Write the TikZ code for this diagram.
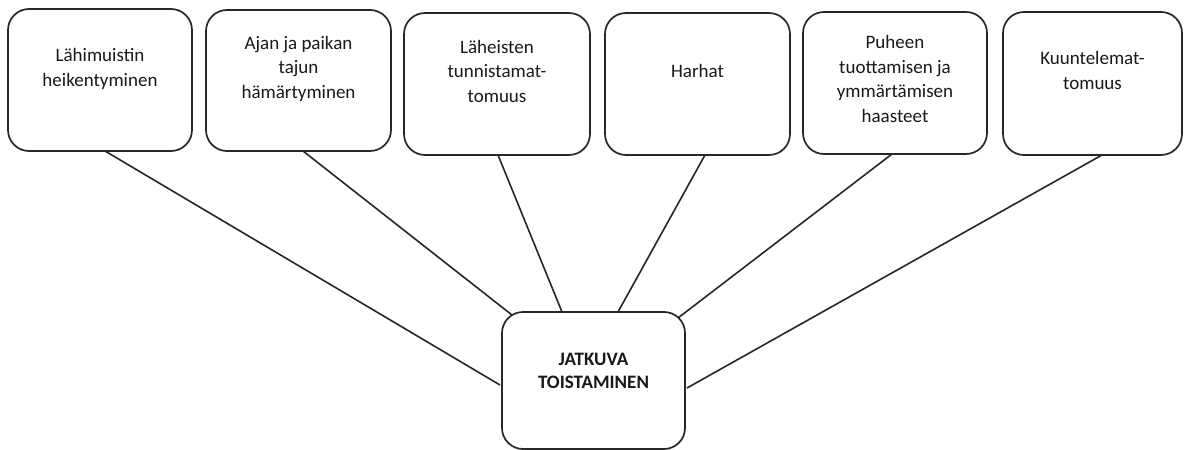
\documentclass[tikz,border=0pt]{standalone}
\usepackage{fontspec}
\setmainfont{Carlito}
\usetikzlibrary{calc}
\begin{document}
\begin{tikzpicture}[x=1pt,y=-1pt,
  box/.style={draw=black!85,line width=1.7pt,rounded corners=21pt,inner sep=0pt,outer sep=0pt,fill=white},
  lbl/.style={align=center,inner sep=0pt,font=\fontsize{19pt}{24.5pt}\selectfont,text=black!90,anchor=base},
  conn/.style={draw=black!85,line width=1.6pt}]
\useasboundingbox (0,0) rectangle (1184,450);
% top boxes
\node[box,minimum width=184pt,minimum height=142pt] (b1) at (100,80) {};
\node[box,minimum width=185pt,minimum height=141pt] (b2) at (298.5,80.5) {};
\node[box,minimum width=186pt,minimum height=142pt] (b3) at (497,84) {};
\node[box,minimum width=185pt,minimum height=142pt] (b4) at (697.5,84) {};
\node[box,minimum width=184pt,minimum height=142pt] (b5) at (895,83) {};
\node[box,minimum width=179pt,minimum height=143pt] (b6) at (1092.5,83.5) {};
% centre box
\node[box,minimum width=183pt,minimum height=137pt] (c) at (593.5,380.5) {};
% texts (base anchor = last line's baseline)
\node[lbl] (t1) at (100,86) {Lähimuistin\\heikentyminen};
\node[lbl] (t2) at (298.5,98) {Ajan ja paikan\\tajun\\hämärtyminen};
\node[lbl] (t3) at (497,102) {Läheisten\\tunnistamat-\\tomuus};
\node[lbl] (t4) at (697.5,77) {Harhat};
\node[lbl] (t5) at (895,122) {Puheen\\tuottamisen ja\\ymmärtämisen\\haasteet};
\node[lbl] (t6) at (1092.5,89) {Kuuntelemat-\\tomuus};
\node[lbl,font=\bfseries\fontsize{19pt}{23pt}\selectfont] (tc) at (593.5,388) {JATKUVA\\TOISTAMINEN};
% connectors
\draw[conn] ($(b1.south west)+(97,0)$) -- ($(c.north west)+(-2,73)$);
\draw[conn] ($(b2.south west)+(97,0)$) -- ($(c.north west)+(10,3)$);
\draw[conn] ($(b3.south west)+(94,0)$) -- ($(c.north west)+(60,0)$);
\draw[conn] ($(b4.south west)+(100,0)$) -- ($(c.north west)+(116,0)$);
\draw[conn] ($(b5.south west)+(89,0)$) -- ($(c.north east)+(-7,6)$);
\draw[conn] ($(b6.south west)+(99,0)$) -- ($(c.north east)+(2,76)$);
\end{tikzpicture}
\end{document}
